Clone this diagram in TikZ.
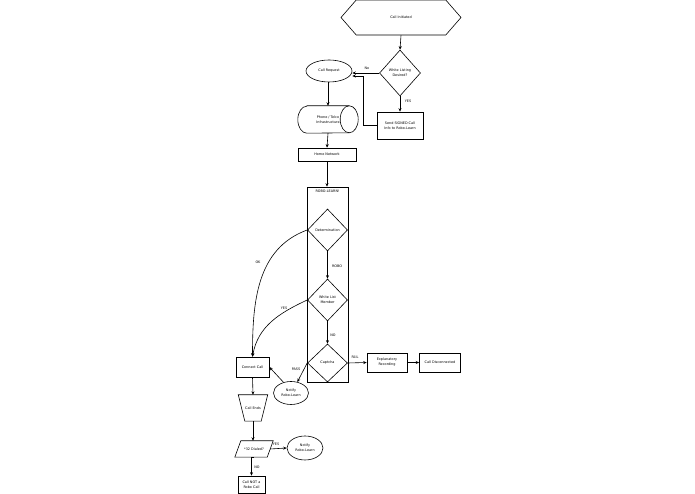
\documentclass[tikz,border=0pt]{standalone}
\usepackage{fontspec}
\setmainfont{DejaVu Sans}
\usetikzlibrary{shapes.geometric,shapes.symbols,arrows.meta}

\begin{document}
\begin{tikzpicture}[x=1pt, y=1pt,
    font=\fontsize{3.4}{5}\selectfont,
    every node/.style={inner sep=0pt, align=center},
    ln/.style={draw=black, line width=0.6pt},
    arr/.style={ln, -{Stealth[length=3.5pt,width=3pt]}},
    procbox/.style={ln, rectangle},
    decide/.style={ln, diamond},
    oval/.style={ln, ellipse}]
    \useasboundingbox (0,0) rectangle (695,494);

    % top of the chart
    \node[ln, signal, signal to=west and east, signal pointer angle=98,
        minimum width=120, minimum height=35] (init) at (401,476.5) {Call Initiated};
    \node[decide, minimum width=41, minimum height=46] (wl) at (400,421) {White Listing\\Desired?};
    \node[oval, minimum width=46, minimum height=22] (req) at (329,423) {Call Request};
    \node[procbox, minimum width=46, minimum height=27] (signed) at (400,368.5) {Send SIGNED Call\\Info to Robo-Learn};
    \node[minimum width=60, minimum height=27] (telco) at (328,374.5) {Phone / Telco\\Infrastructure};
    \draw[ln] ([xshift=9pt]telco.north west) -- ([xshift=-9pt]telco.north east)
        arc[start angle=90, end angle=-90, x radius=9, y radius=13.5]
        -- ([xshift=9pt]telco.south west)
        arc[start angle=270, end angle=90, x radius=9, y radius=13.5] -- cycle;
    \draw[ln] ([xshift=-9pt]telco.north east) arc[start angle=90, end angle=270, x radius=9, y radius=13.5];
    \node[procbox, minimum width=58, minimum height=13] (homenet) at (327,339.5) {Home Network};
    \coordinate (fb) at (363,418);

    % robo-learn block
    \node[procbox, minimum width=41, minimum height=195] (robo) at (327.5,209.5) {};
    \node[below=3.5pt] (robolabel) at (robo.north) {ROBO-LEARN!};
    \node[decide, minimum width=40, minimum height=42] (det) at (327.5,264) {Determination};
    \node[decide, minimum width=40, minimum height=42] (wlm) at (327.5,194) {White List\\Member};
    \node[decide, minimum width=40, minimum height=38] (captcha) at (327.5,131) {Captcha};
    \node[procbox, minimum width=40, minimum height=19] (expl) at (387,131.5) {Explanatory\\Recording};
    \node[procbox, minimum width=41, minimum height=19] (disc) at (440,131.5) {Call Disconnected};
    \node[oval, minimum width=35, minimum height=23] (notify1) at (291,101) {Notify\\Robo-Learn};

    % call path
    \node[procbox, minimum width=33, minimum height=20] (connect) at (252.5,127) {Connect Call};
    \node[minimum width=29, minimum height=26] (ends) at (253,86) {Call Ends};
    \draw[ln] (ends.north west) -- (ends.north east) -- ([xshift=-6.5pt]ends.south east)
        -- ([xshift=6.5pt]ends.south west) -- cycle;
    \node[minimum width=38, minimum height=16] (dialed) at (254,45) {*32 Dialed?};
    \draw[ln] ([xshift=6pt]dialed.north west) -- (dialed.north east) -- ([xshift=-6pt]dialed.south east)
        -- (dialed.south west) -- cycle;
    \node[oval, minimum width=36, minimum height=24] (notify2) at (305,46) {Notify\\Robo-Learn};
    \node[procbox, minimum width=27, minimum height=17] (notcall) at (251.5,9.5) {Call NOT a\\Robo Call};

    % labels
    \node (lno) at (367,426) {No};
    \node (lyes) at (408,393) {YES};
    \node (lok) at (258,232) {OK};
    \node (lrobo) at (337,228) {ROBO};
    \node (lyes2) at (284,186) {YES};
    \node (lno2) at (333,159) {NO};
    \node (lfail) at (355,137) {FAIL};
    \node (lpass) at (296,125) {PASS};
    \node (lyes3) at (276,50) {YES};
    \node (lno3) at (257,27) {NO};

    % connectors
    \draw[arr] (init.south) -- (wl.north);
    \draw[arr] (wl.west) -- (wl.west -| req.east);
    \draw[arr] (wl.south) -- (signed.north);
    \draw[arr] (signed.west) -| (fb) -- (fb -| req.east);
    \draw[arr] (req.south -| telco.north) -- (telco.north);
    \draw[arr] (telco.south) -- (homenet.north);
    \draw[arr] (homenet.south) -- (homenet.south |- robo.north);
    \draw[arr] (det.south) -- (wlm.north);
    \draw[arr] (wlm.south) -- (captcha.north);
    \draw[arr] (captcha.east) -- (expl.west);
    \draw[arr] (expl.east) -- (disc.west);
    \draw[arr] (captcha.west) -- (notify1.60);
    \draw[arr] (notify1.125) -- (connect.east);
    \draw[arr] (det.west) to[out=200, in=90] (connect.north);
    \draw[arr] (wlm.west) to[out=205, in=80] (connect.north);
    \draw[arr] (connect.south) -- (ends.north);
    \draw[arr] (ends.south) -- (ends.south |- dialed.north);
    \draw[arr] ([xshift=-3pt]dialed.east) -- (notify2.west);
    \draw[arr] (dialed.south) -- (dialed.south -| notcall.north) -- (notcall.north);
\end{tikzpicture}
\end{document}
